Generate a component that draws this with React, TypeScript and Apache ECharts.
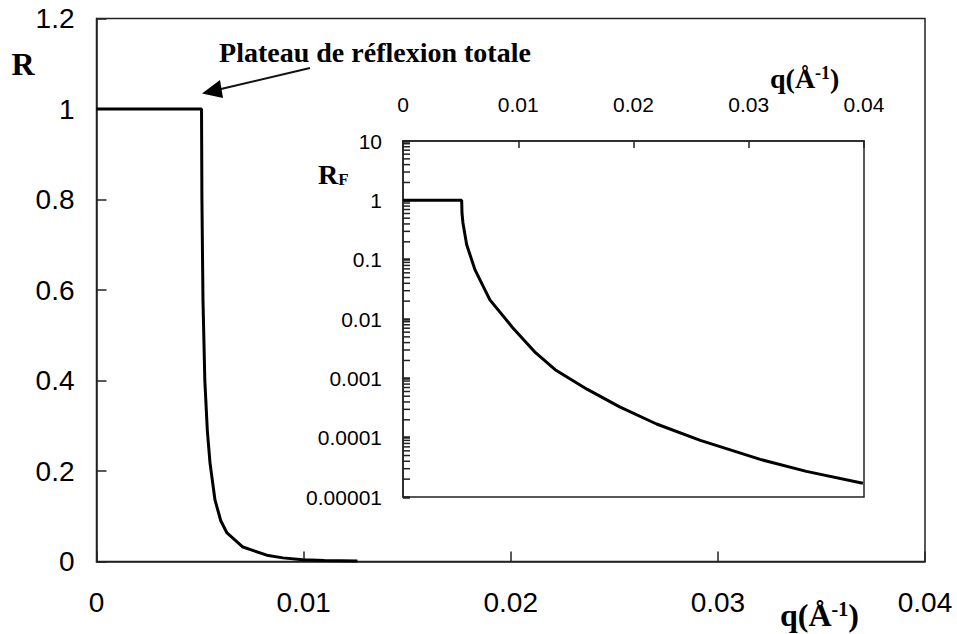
import React, { useEffect, useRef } from "react";
import * as echarts from "echarts";

// ---- tick labels ----
const mainXTicks = [0, 0.01, 0.02, 0.03, 0.04];
const mainYTicks = [0, 0.2, 0.4, 0.6, 0.8, 1, 1.2];
const insetXTicks = [0, 0.01, 0.02, 0.03, 0.04];
const insetYTickLabels = ["0.00001", "0.0001", "0.001", "0.01", "0.1", "1", "10"];
const insetYDecades = [1e-5, 1e-4, 1e-3, 1e-2, 1e-1, 1];
const minorMultipliers = [2, 3, 4, 5, 6, 7, 8, 9];

// ---- main curve: R vs q (linear) ----
const mainQ = [0, 0.00507, 0.00509, 0.00514, 0.00523, 0.00535, 0.00548, 0.00572, 0.006, 0.0063, 0.00707, 0.00822, 0.009, 0.00996, 0.011, 0.0126];
const mainR = [1, 1, 0.8, 0.58, 0.4, 0.29, 0.218, 0.136, 0.09, 0.063, 0.032, 0.014, 0.008, 0.004, 0.002, 0.0012];

// ---- inset curve: RF vs q (log) ----
const insetQ = [0, 0.00509, 0.00512, 0.0052, 0.00552, 0.00624, 0.00754, 0.0095, 0.0115, 0.0132, 0.016, 0.0188, 0.022, 0.0258, 0.031, 0.035, 0.0399];
const insetRF = [1, 1, 0.6, 0.42, 0.18, 0.068, 0.021, 0.0072, 0.0027, 0.0014, 0.00065, 0.00033, 0.00017, 0.00009, 0.000043, 0.000027, 0.000017];

const AX = "#222";
const SANS = "'Liberation Sans', Arial, sans-serif";
const SERIF = "'Liberation Serif', 'Times New Roman', serif";

export default function App() {
  const ref = useRef<HTMLDivElement>(null);
  useEffect(() => {
    document.body.style.margin = "0";
    const chart = echarts.init(ref.current!, null, { renderer: "svg" });
    const minorTicks: number[][] = [];
    insetYDecades.forEach((d) => minorMultipliers.forEach((m) => minorTicks.push([insetXTicks[0], d * m])));

    const axisLine = { show: true, onZero: false, lineStyle: { color: AX, width: 1.5 } };
    const option: any = {
      animation: false,
      backgroundColor: "#fff",
      grid: [
        { left: 96.5, top: 18.5, right: 32, bottom: 72.5, show: true, borderColor: AX, borderWidth: 1.5 },
        { left: 403, top: 141, right: 93, bottom: 137, show: true, borderColor: AX, borderWidth: 1.5, backgroundColor: "#fff" },
      ],
      xAxis: [
        {
          gridIndex: 0, type: "value", min: mainXTicks[0], max: mainXTicks[mainXTicks.length - 1], interval: 0.01,
          axisLine, splitLine: { show: false },
          axisTick: { show: true, inside: true, length: 10, lineStyle: { color: AX, width: 1.5 } },
          axisLabel: { fontSize: 28, margin: 27, color: "#000", fontFamily: SANS, formatter: (v: number) => String(+v.toFixed(2)) },
        },
        {
          gridIndex: 1, type: "value", position: "top", min: insetXTicks[0], max: insetXTicks[insetXTicks.length - 1], interval: 0.01,
          axisLine, splitLine: { show: false },
          axisTick: { show: true, inside: true, length: 7, lineStyle: { color: AX, width: 1.5 } },
          axisLabel: { fontSize: 21, margin: 26, color: "#000", fontFamily: SANS, formatter: (v: number) => String(+v.toFixed(2)) },
        },
      ],
      yAxis: [
        {
          gridIndex: 0, type: "value", min: mainYTicks[0], max: mainYTicks[mainYTicks.length - 1], interval: 0.2,
          axisLine, splitLine: { show: false },
          axisTick: { show: true, inside: true, length: 10, lineStyle: { color: AX, width: 1.5 } },
          axisLabel: { fontSize: 28, margin: 22, color: "#000", fontFamily: SANS, formatter: (v: number) => String(+v.toFixed(1)) },
        },
        {
          gridIndex: 1, type: "log", logBase: 10, min: 1e-5, max: 10,
          axisLine, splitLine: { show: false },
          axisTick: { show: true, inside: true, length: 7, lineStyle: { color: AX, width: 2.5 } },
          axisLabel: {
            fontSize: 21, margin: 21, color: "#000", fontFamily: SANS,
            formatter: (v: number) => insetYTickLabels[Math.round(Math.log10(v)) + 5] ?? "",
          },
        },
      ],
      series: [
        {
          type: "line", xAxisIndex: 0, yAxisIndex: 0, showSymbol: false, symbol: "none",
          lineStyle: { color: "#000", width: 3 },
          data: mainQ.map((q, i) => [q, mainR[i]]),
        },
        {
          type: "line", xAxisIndex: 1, yAxisIndex: 1, showSymbol: false, symbol: "none",
          lineStyle: { color: "#000", width: 3 },
          data: insetQ.map((q, i) => [q, insetRF[i]]),
        },
        {
          type: "scatter", xAxisIndex: 1, yAxisIndex: 1, clip: false, silent: true, z: 10,
          symbol: "rect", symbolSize: [7, 1.5], symbolOffset: [3.5, 0],
          itemStyle: { color: "#222", opacity: 1 },
          data: minorTicks,
        },
      ],
      graphic: [
        { type: "text", x: 23, y: 64, style: { text: "R", font: `bold 32px ${SERIF}`, fill: "#000", textAlign: "center", textVerticalAlign: "middle" } },
        { type: "text", x: 375, y: 52, style: { text: "Plateau de réflexion totale", font: `bold 28px ${SERIF}`, fill: "#000", textAlign: "center", textVerticalAlign: "middle" } },
        { type: "line", shape: { x1: 310, y1: 68, x2: 221, y2: 89 }, style: { stroke: "#111", lineWidth: 2 } },
        { type: "polygon", shape: { points: [[202, 93.5], [220, 80], [223, 98]] }, style: { fill: "#000" } },
        {
          type: "text", x: 780, y: 615,
          style: {
            text: "{a|q(Å}{s|-1}{a|)}", textVerticalAlign: "middle", fill: "#000",
            rich: {
              a: { font: `bold 32px ${SERIF}`, fill: "#000" },
              s: { font: `bold 20px ${SERIF}`, fill: "#000", verticalAlign: "top" },
            },
          },
        },
        {
          type: "text", x: 770, y: 78,
          style: {
            text: "{a|q(Å}{s|-1}{a|)}", textVerticalAlign: "middle", fill: "#000",
            rich: {
              a: { font: `bold 28px ${SERIF}`, fill: "#000" },
              s: { font: `bold 18px ${SERIF}`, fill: "#000", verticalAlign: "top" },
            },
          },
        },
        {
          type: "text", x: 318, y: 174,
          style: {
            text: "{a|R}{s|F}", textVerticalAlign: "middle", fill: "#000",
            rich: {
              a: { font: `bold 28px ${SERIF}`, fill: "#000" },
              s: { font: `bold 17px ${SERIF}`, fill: "#000", verticalAlign: "bottom" },
            },
          },
        },
      ],
    };
    chart.setOption(option);
    return () => chart.dispose();
  }, []);
  return <div ref={ref} style={{ width: 957, height: 634 }} />;
}
